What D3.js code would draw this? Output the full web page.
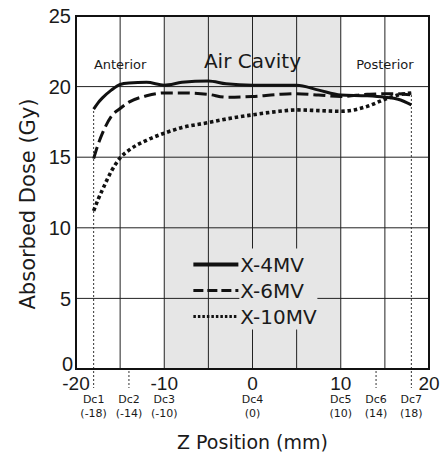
<!DOCTYPE html>
<html>
<head>
<meta charset="utf-8">
<script src="https://cdn.jsdelivr.net/npm/d3@7"></script>
<style>
  body { margin: 0; background: #fff; }
  svg { display: block; }
  text { fill: #1a1a1a; }
</style>
</head>
<body>
<div id="chart"></div>
<script>
// z positions (mm) sampled along the curves
const zValues = [-18, -17.5, -17, -16, -15, -14, -12, -10, -8, -5, -3, 0, 3, 5, 7.5, 10, 13, 15, 16.5, 18];
const dose4MV = [18.4, 18.85, 19.2, 19.75, 20.15, 20.25, 20.3, 20.1, 20.3, 20.4, 20.2, 20.1, 20.1, 20.1, 19.75, 19.4, 19.35, 19.25, 19.1, 18.7];
const dose6MV = [14.9, 15.9, 16.7, 17.9, 18.45, 18.9, 19.35, 19.55, 19.55, 19.45, 19.25, 19.3, 19.45, 19.5, 19.4, 19.3, 19.45, 19.5, 19.5, 19.4];
const dose10MV = [11.2, 12.0, 12.7, 14.0, 14.95, 15.5, 16.2, 16.7, 17.1, 17.45, 17.7, 18.0, 18.25, 18.35, 18.3, 18.25, 18.6, 19.1, 19.4, 19.55];

const seriesNames = ["X-4MV", "X-6MV", "X-10MV"];
const yTicks = [0, 5, 10, 15, 20, 25];
const xTicks = [-20, -10, 0, 10, 20];
const gridX = [-15, -10, -5, 0, 5, 10, 15];
const detectors = ["Dc1", "Dc2", "Dc3", "Dc4", "Dc5", "Dc6", "Dc7"];
const detectorZ = [-18, -14, -10, 0, 10, 14, 18];
const regions = ["Anterior", "Air Cavity", "Posterior"];
const regionZ = [-15, 0, 15];
const cavity = [-10, 10];

const W = 442, H = 456;
const margin = { top: 16, right: 13, bottom: 87, left: 76 };
const width = W - margin.left - margin.right;
const height = H - margin.top - margin.bottom;

const svg = d3.select("#chart").append("svg")
  .attr("width", W)
  .attr("height", H);

const g = svg.append("g")
  .attr("transform", `translate(${margin.left},${margin.top})`);

const x = d3.scaleLinear().domain([-20, 20]).range([0, width]);
const y = d3.scaleLinear().domain([0, 25]).range([height, 0]);

// air cavity shading
g.append("rect")
  .attr("x", x(cavity[0]))
  .attr("y", 0)
  .attr("width", x(cavity[1]) - x(cavity[0]))
  .attr("height", height)
  .attr("fill", "#e6e6e6");

// grid
g.selectAll(".hgrid")
  .data(yTicks.filter(d => d > 0 && d < 25))
  .enter().append("line")
  .attr("x1", 0).attr("x2", width)
  .attr("y1", d => y(d)).attr("y2", d => y(d))
  .attr("stroke", "#222").attr("stroke-width", 1);

g.selectAll(".vgrid")
  .data(gridX)
  .enter().append("line")
  .attr("x1", d => x(d)).attr("x2", d => x(d))
  .attr("y1", 0).attr("y2", height)
  .attr("stroke", "#222").attr("stroke-width", 1);

// dotted detector lines at the ends
const series = [dose4MV, dose6MV, dose10MV];
[0, detectorZ.length - 1].forEach(i => {
  const top = d3.max(series, s => s[zValues.indexOf(detectorZ[i])]);
  g.append("line")
    .attr("x1", x(detectorZ[i])).attr("x2", x(detectorZ[i]))
    .attr("y1", y(0)).attr("y2", y(top))
    .attr("stroke", "#333").attr("stroke-width", 1)
    .attr("stroke-dasharray", "2,2");
});

// dotted marks below axis
g.selectAll(".dcTick")
  .data([-18, -14, 14, 18])
  .enter().append("line")
  .attr("x1", d => x(d)).attr("x2", d => x(d))
  .attr("y1", height + 2).attr("y2", height + 19)
  .attr("stroke", "#333").attr("stroke-width", 1)
  .attr("stroke-dasharray", "2,2");

// legend box hides the grid behind text
const legend = g.append("g").attr("transform", `translate(${x(-6.7)},${y(7.4)})`);
legend.append("rect")
  .attr("x", 46).attr("y", -16)
  .attr("width", 78).attr("height", 81)
  .attr("fill", "#e6e6e6");

// curves
const line = d3.line()
  .x((d, i) => x(zValues[i]))
  .y(d => y(d))
  .curve(d3.curveMonotoneX);

const styles = [
  { dash: null, w: 3 },
  { dash: "12,5", w: 3 },
  { dash: "3.5,2.8", w: 3.6 }
];

series.forEach((s, i) => {
  g.append("path")
    .datum(s)
    .attr("d", line)
    .attr("fill", "none")
    .attr("stroke", "#111")
    .attr("stroke-width", styles[i].w)
    .attr("stroke-dasharray", styles[i].dash);
});

// legend entries
seriesNames.forEach((name, i) => {
  const ly = i * 26;
  legend.append("line")
    .attr("x1", 0).attr("x2", 45)
    .attr("y1", ly).attr("y2", ly)
    .attr("stroke", "#111")
    .attr("stroke-width", i === 0 ? 4 : 3)
    .attr("stroke-dasharray", i === 0 ? null : (i === 1 ? "10,4" : "2.5,2"));
  legend.append("text")
    .attr("x", 47).attr("y", ly)
    .attr("dy", "0.36em")
    .style("font-family", "DejaVu Sans, sans-serif")
    .style("font-size", "20px")
    .text(name);
});

// frame
g.append("rect")
  .attr("width", width).attr("height", height)
  .attr("fill", "none")
  .attr("stroke", "#111").attr("stroke-width", 2);

// region labels
regions.forEach((r, i) => {
  g.append("text")
    .attr("x", x(regionZ[i]))
    .attr("y", i === 1 ? 52 : 53)
    .attr("text-anchor", "middle")
    .style("font-family", "DejaVu Sans, sans-serif")
    .style("font-size", i === 1 ? "20px" : "13px")
    .text(r);
});

// y tick labels
g.selectAll(".ytick")
  .data(yTicks)
  .enter().append("text")
  .attr("x", d => d === 0 ? -3 : -5)
  .attr("y", d => y(d))
  .attr("dy", d => d === 0 ? "0.1em" : "0.36em")
  .attr("text-anchor", "end")
  .style("font-family", "Liberation Sans, Arial, sans-serif")
  .style("font-size", "20px")
  .text(d => d);

// x tick labels
g.selectAll(".xtick")
  .data(xTicks)
  .enter().append("text")
  .attr("x", d => x(d))
  .attr("y", height + 21)
  .attr("text-anchor", "middle")
  .style("font-family", "Liberation Sans, Arial, sans-serif")
  .style("font-size", "19px")
  .text(d => d < 0 ? "-" + Math.abs(d) : d);

// detector labels
detectors.forEach((dc, i) => {
  g.append("text")
    .attr("x", x(detectorZ[i]))
    .attr("y", height + 34)
    .attr("text-anchor", "middle")
    .style("font-family", "DejaVu Sans, sans-serif")
    .style("font-size", "11px")
    .text(dc);
  g.append("text")
    .attr("x", x(detectorZ[i]))
    .attr("y", height + 48)
    .attr("text-anchor", "middle")
    .style("font-family", "DejaVu Sans, sans-serif")
    .style("font-size", "11px")
    .text("(" + detectorZ[i] + ")");
});

// axis titles
svg.append("text")
  .attr("x", margin.left + x(0))
  .attr("y", 449)
  .attr("text-anchor", "middle")
  .style("font-family", "DejaVu Sans, sans-serif")
  .style("font-size", "19px")
  .text("Z Position (mm)");

svg.append("text")
  .attr("transform", "rotate(-90)")
  .attr("x", -204)
  .attr("y", 35)
  .attr("text-anchor", "middle")
  .style("font-family", "DejaVu Sans, sans-serif")
  .style("font-size", "21px")
  .text("Absorbed Dose (Gy)");
</script>
</body>
</html>
